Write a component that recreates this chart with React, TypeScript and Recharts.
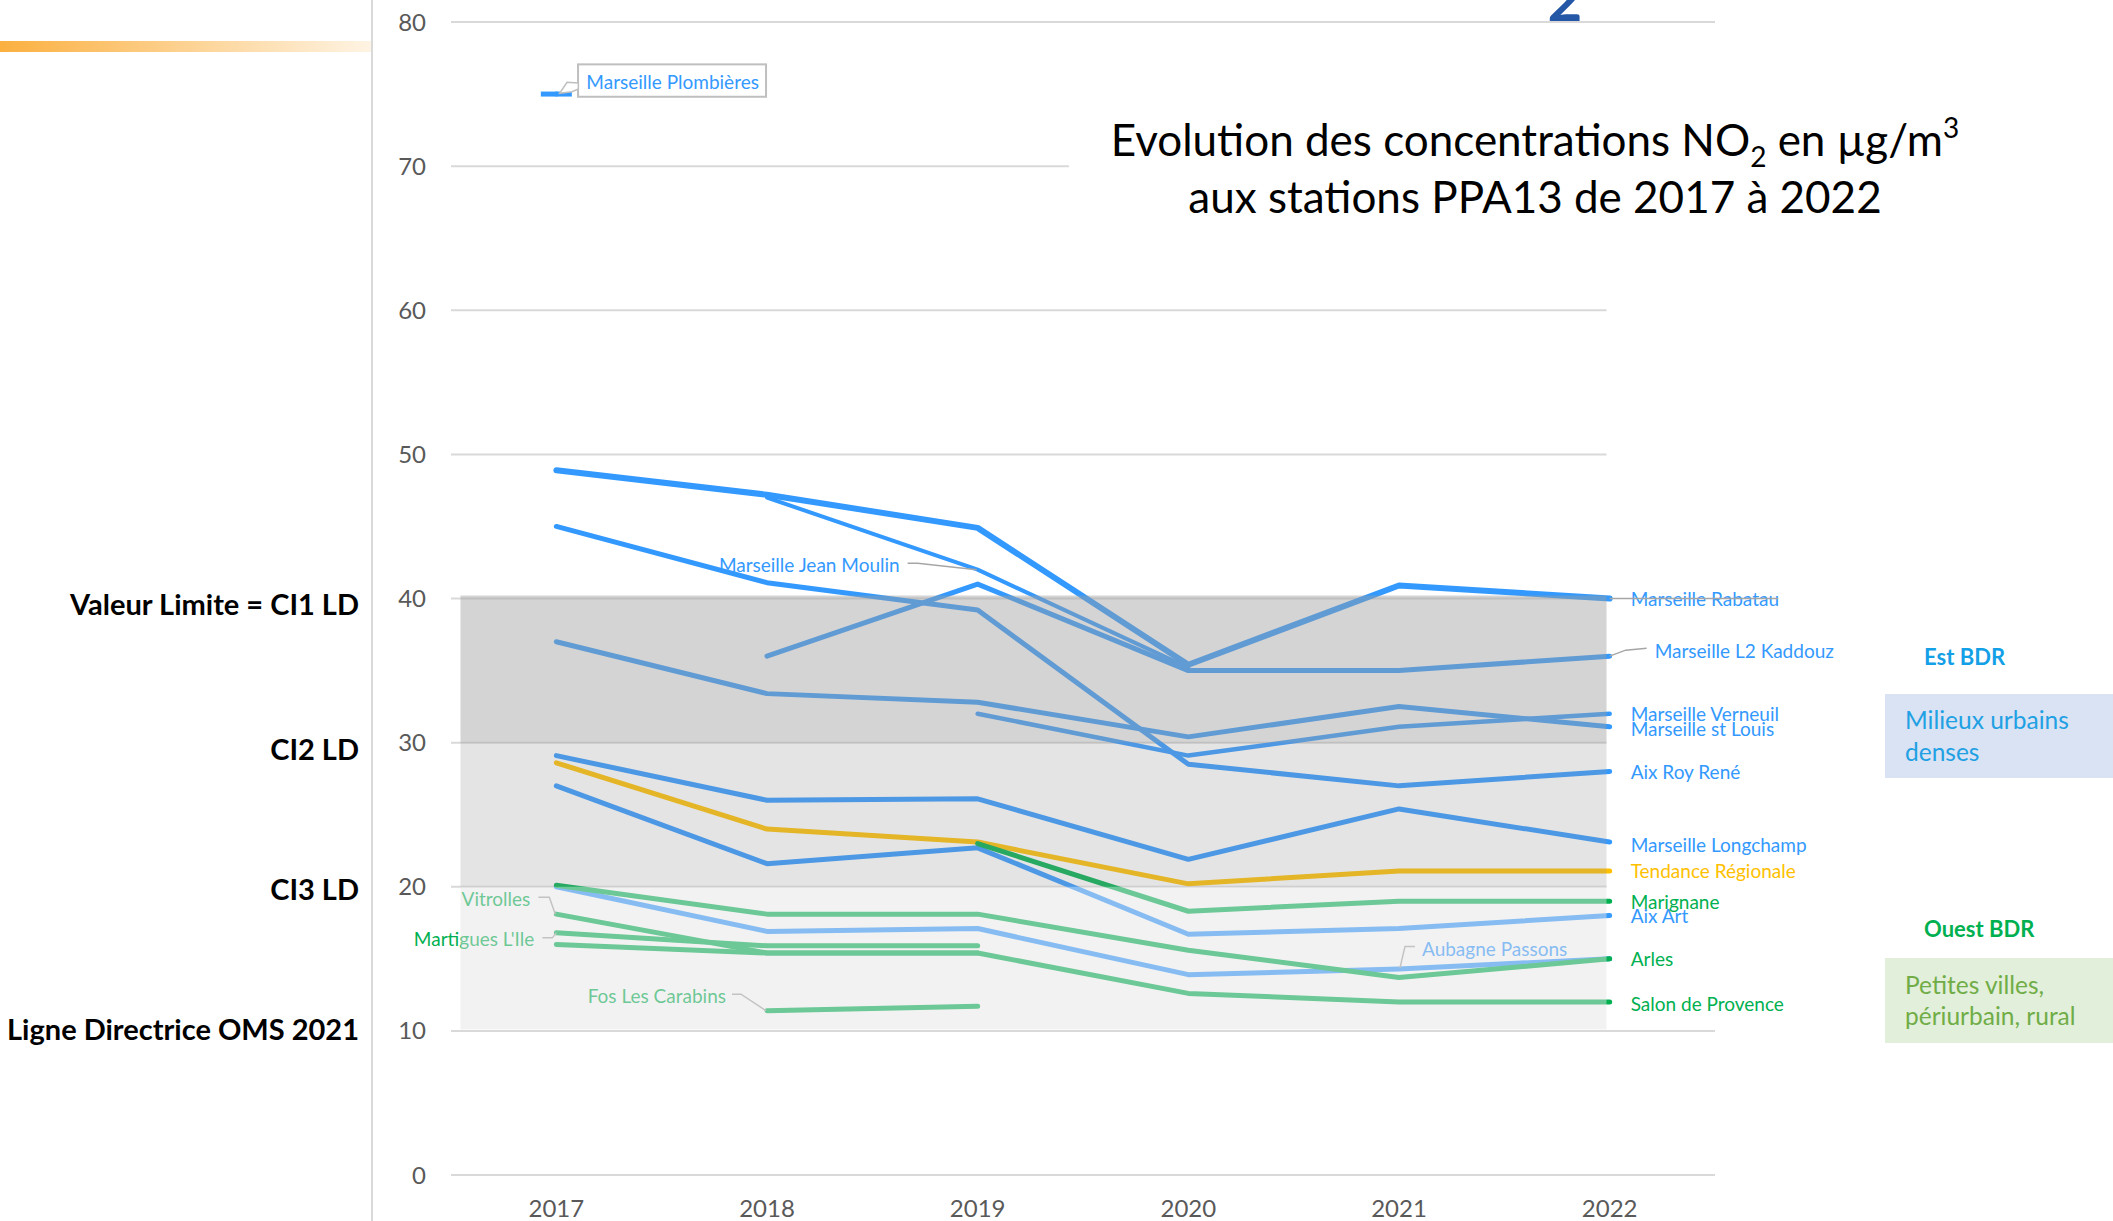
import React from 'react';
import { LineChart, Line, XAxis, YAxis, ReferenceLine, ReferenceArea } from 'recharts';

// Années et valeurs NO2 (µg/m3)
const years = [2017, 2018, 2019, 2020, 2021, 2022];
const yTicks = [0, 10, 20, 30, 40, 50, 60, 70, 80];

const rabatau = [48.9, 47.2, 44.9, 35.4, 40.9, 40.0];
const jeanMoulin = [null, 47.0, 42.0, 35.2, null, null];
const l2Kaddouz = [null, 36.0, 41.0, 35.0, 35.0, 36.0];
const verneuil = [null, null, 32.0, 29.1, 31.1, 32.0];
const stLouis = [37.0, 33.4, 32.8, 30.4, 32.5, 31.1];
const aixRoyRene = [45.0, 41.1, 39.2, 28.5, 27.0, 28.0];
const longchamp = [29.1, 26.0, 26.1, 21.9, 25.4, 23.1];
const aixArt = [27.0, 21.6, 22.7, 16.7, 17.1, 18.0];
const aubagne = [20.0, 16.9, 17.1, 13.9, 14.3, 15.0];
const plombieres = [75.0, null, null, null, null, null];
const tendance = [28.6, 24.0, 23.1, 20.2, 21.1, 21.1];
const marignane = [null, null, 23.0, 18.3, 19.0, 19.0];
const arles = [20.1, 18.1, 18.1, 15.6, 13.7, 15.0];
const salon = [16.0, 15.4, 15.4, 12.6, 12.0, 12.0];
const vitrolles = [18.1, 15.4, 15.4, null, null, null];
const martigues = [16.8, 15.9, 15.9, null, null, null];
const fos = [null, 11.4, 11.7, null, null, null];

// seuils réglementaires (textes de gauche)
const thresholdValues = [40, 30, 20, 10];
const thresholdNames = ['Valeur Limite = CI1 LD', 'CI2 LD', 'CI3 LD', 'Ligne Directrice OMS 2021'];
const thresholdDy = [5, 6, 2, -2];

const EST = '#3399FF';
const OUEST = '#00B050';
const REGION = '#FFC000';
const FONT = 'Lato, "Open Sans", sans-serif';

type Lab = {
  index: number;
  text: string;
  dx: number;
  dy: number;
  anchor: 'start' | 'end';
  leader?: number[][];
  box?: number[];
};

type Serie = {
  key: string;
  values: (number | null)[];
  color: string;
  width: number;
  label?: Lab;
  dash?: boolean;
};

const right = (text: string): Lab => ({ index: 5, text, dx: 21, dy: 0, anchor: 'start' });

const series: Serie[] = [
  { key: 'l2', values: l2Kaddouz, color: EST, width: 5,
    label: { index: 5, text: 'Marseille L2 Kaddouz', dx: 45, dy: -6, anchor: 'start', leader: [[0, 0], [16, -6], [37, -8]] } },
  { key: 'jm', values: jeanMoulin, color: EST, width: 4,
    label: { index: 2, text: 'Marseille Jean Moulin', dx: -78, dy: -5, anchor: 'end', leader: [[-70, -6.5], [-60, -6.5], [-1, 0]] } },
  { key: 'verneuil', values: verneuil, color: EST, width: 4.5, label: right('Marseille Verneuil') },
  { key: 'stlouis', values: stLouis, color: EST, width: 5, label: { ...right('Marseille st Louis'), dy: 2 } },
  { key: 'aixrr', values: aixRoyRene, color: EST, width: 5, label: right('Aix Roy René') },
  { key: 'longchamp', values: longchamp, color: EST, width: 5, label: { ...right('Marseille Longchamp'), dy: 2 } },
  { key: 'aixart', values: aixArt, color: EST, width: 5, label: right('Aix Art') },
  { key: 'aubagne', values: aubagne, color: EST, width: 5,
    label: { index: 4, text: 'Aubagne Passons', dx: 23, dy: -20, anchor: 'start', leader: [[16, -22.5], [6, -22.5], [1, -1]] } },
  { key: 'rabatau', values: rabatau, color: EST, width: 6, label: right('Marseille Rabatau') },
  { key: 'plombieres', values: plombieres, color: EST, width: 5, dash: true,
    label: { index: 0, text: 'Marseille Plombières', dx: 30, dy: -12.5, anchor: 'start',
      box: [21.7, -29.7, 188, 32.4], leader: [[22, -11], [10.7, -11.7], [3.3, -0.7], [15.7, -2.3], [22, -5]] } },
  { key: 'tendance', values: tendance, color: REGION, width: 5, label: right('Tendance Régionale') },
  { key: 'salon', values: salon, color: OUEST, width: 5, label: { ...right('Salon de Provence'), dy: 1 } },
  { key: 'fos', values: fos, color: OUEST, width: 5,
    label: { index: 1, text: 'Fos Les Carabins', dx: -41, dy: -15, anchor: 'end', leader: [[-35, -16.5], [-26, -16.5], [-1, 0]] } },
  { key: 'martigues', values: martigues, color: OUEST, width: 5,
    label: { index: 0, text: "Martigues L'Ile", dx: -22, dy: 6, anchor: 'end', leader: [[-14, 5], [-4, 5], [0, 0]] } },
  { key: 'vitrolles', values: vitrolles, color: OUEST, width: 5,
    label: { index: 0, text: 'Vitrolles', dx: -26, dy: -16, anchor: 'end', leader: [[-18, -17], [-7, -17], [-1, 0]] } },
  { key: 'arles', values: arles, color: OUEST, width: 5, label: right('Arles') },
  { key: 'marignane', values: marignane, color: OUEST, width: 5, label: right('Marignane') },
];

const rows = years.map((year, i) => {
  const row: Record<string, number | null> = { year };
  series.forEach((s) => {
    row[s.key] = s.values[i];
  });
  return row;
});

const renderDot = (s: Serie) => (p: any) => {
  const { cx, cy, index } = p;
  const k = `${s.key}-${index}`;
  if (cx == null || cy == null || Number.isNaN(cx) || Number.isNaN(cy)) return <g key={k} />;
  const lab = s.label && s.label.index === index ? s.label : null;
  const pts = lab && lab.leader ? lab.leader.map((q) => `${cx + q[0]},${cy + q[1]}`).join(' ') : '';
  return (
    <g key={k}>
      {s.dash && <rect x={cx - 15.5} y={cy - 2.5} width={31} height={5} fill={s.color} />}
      {lab && lab.box && (
        <rect x={cx + lab.box[0]} y={cy + lab.box[1]} width={lab.box[2]} height={lab.box[3]}
          fill="#fff" stroke="#bfbfbf" strokeWidth={2} />
      )}
      {lab && lab.leader && lab.box && <polygon points={pts} fill="#fff" stroke="#bfbfbf" strokeWidth={1.5} />}
      {lab && lab.leader && !lab.box && <polyline points={pts} fill="none" stroke="#a6a6a6" strokeWidth={1.5} />}
      {lab && (
        <text x={cx + lab.dx} y={cy + lab.dy} dominantBaseline="central" textAnchor={lab.anchor}
          fontSize={19} fontFamily={FONT} fill={s.color}>
          {lab.text}
        </text>
      )}
    </g>
  );
};

// longueur de chaque ligne de grille (certaines sont masquées par le cadre du titre / des étiquettes)
const gridEnd: Record<number, number> = { 80: 2022.5, 70: 2019.433, 60: 2021.985, 50: 2021.985, 40: 2021.985, 30: 2021.985, 20: 2021.985, 10: 2022.5, 0: 2022.5 };

const thresholdLabel = (name: string, dy: number) => (props: any) => {
  const vb = props.viewBox || {};
  return (
    <text x={(vb.x ?? 451) - 92} y={(vb.y ?? 0) + dy} dominantBaseline="central" textAnchor="end"
      fontSize={29} fontWeight={700} fontFamily={FONT} fill="#000">
      {name}
    </text>
  );
};

const App: React.FC = () => {
  return (
    <div style={{ position: 'absolute', left: 0, top: 0, width: 2113, height: 1221, background: '#fff', overflow: 'hidden', fontFamily: FONT }}>
      <div style={{ position: 'absolute', left: 0, top: 41, width: 372, height: 11, background: 'linear-gradient(to right, #FBB040, #FEF4E4)' }} />
      <div style={{ position: 'absolute', left: 371, top: 0, width: 2, height: 1221, background: '#D9D9D9' }} />

      <svg style={{ position: 'absolute', left: 0, top: 0 }} width={2113} height={40}>
        <text x={1565} y={21} textAnchor="middle" fontSize={60} fontWeight={700} fontFamily={FONT} fill="#2557A7">2</text>
      </svg>

      <div style={{ position: 'absolute', left: 0, top: 0 }}>
        <LineChart width={2113} height={1221} data={rows} margin={{ top: 22, right: 398, bottom: 0, left: 0 }}>
          <XAxis type="number" dataKey="year" domain={[2016.5, 2022.5]} ticks={years}
            axisLine={false} tickLine={false} tickSize={0} tickMargin={25} height={46} interval={0}
            tick={{ fill: '#595959', fontSize: 24, fontFamily: FONT }} />
          <YAxis type="number" domain={[0, 80]} ticks={yTicks} width={451}
            axisLine={false} tickLine={false} tickSize={0} tickMargin={25} interval={0}
            tick={{ fill: '#595959', fontSize: 24, fontFamily: FONT }} />

          {yTicks.map((v) => {
            const ti = thresholdValues.indexOf(v);
            return (
              <ReferenceLine key={`g${v}`} segment={[{ x: 2016.5, y: v }, { x: gridEnd[v], y: v }]}
                stroke="#D9D9D9" strokeWidth={2} ifOverflow="visible" zIndex={-50}
                label={ti >= 0 ? thresholdLabel(thresholdNames[ti], thresholdDy[ti]) : undefined} />
            );
          })}

          {series.map((s) => (
            <Line key={s.key} dataKey={s.key} type="linear" stroke={s.color} strokeWidth={s.width}
              strokeLinecap="round" strokeLinejoin="round" dot={renderDot(s)} activeDot={false}
              connectNulls={false} isAnimationActive={false} />
          ))}

          <ReferenceArea x1={2016.545} x2={2021.985} y1={30} y2={40.2} fill="#9d9d9d" fillOpacity={0.44}
            stroke="none" zIndex={1500} ifOverflow="visible" />
          <ReferenceArea x1={2016.545} x2={2021.985} y1={20} y2={30} fill="#979797" fillOpacity={0.26}
            stroke="none" zIndex={1500} ifOverflow="visible" />
          <ReferenceArea x1={2016.545} x2={2021.985} y1={10.1} y2={20} fill="#e3e3e3" fillOpacity={0.475}
            stroke="none" zIndex={1500} ifOverflow="visible" />

          <ReferenceLine segment={[{ x: 2022, y: 40 }, { x: 2022.8, y: 40 }]} stroke="#a6a6a6" strokeWidth={1.5}
            ifOverflow="visible" zIndex={2100} />
        </LineChart>
      </div>

      <div style={{ position: 'absolute', left: 1035, top: 111, width: 1000, textAlign: 'center', fontSize: 44, lineHeight: '57px', color: '#000' }}>
        <div>
          Evolution des concentrations NO<span style={{ fontSize: 28, lineHeight: 0, position: 'relative', top: 11 }}>2</span> en µg/m
          <span style={{ fontSize: 28, lineHeight: 0, position: 'relative', top: -18 }}>3</span>
        </div>
        <div>aux stations PPA13 de 2017 à 2022</div>
      </div>

      <div style={{ position: 'absolute', left: 1924, top: 643, fontSize: 22, fontWeight: 700, color: '#14A0E6', lineHeight: '28px' }}>Est BDR</div>
      <div style={{ position: 'absolute', left: 1885, top: 694, width: 228, height: 84, boxSizing: 'border-box', padding: '10px 0 0 20px', background: '#DAE3F3', color: '#21A0E3', fontSize: 24.5, lineHeight: '32px' }}>
        Milieux urbains<br />denses
      </div>
      <div style={{ position: 'absolute', left: 1924, top: 915, fontSize: 22, fontWeight: 700, color: OUEST, lineHeight: '28px' }}>Ouest BDR</div>
      <div style={{ position: 'absolute', left: 1885, top: 958, width: 228, height: 85, boxSizing: 'border-box', padding: '11px 0 0 20px', background: '#E2EFDA', color: '#70AD47', fontSize: 24.5, lineHeight: '31px' }}>
        Petites villes,<br />périurbain, rural
      </div>
    </div>
  );
};

export default App;
